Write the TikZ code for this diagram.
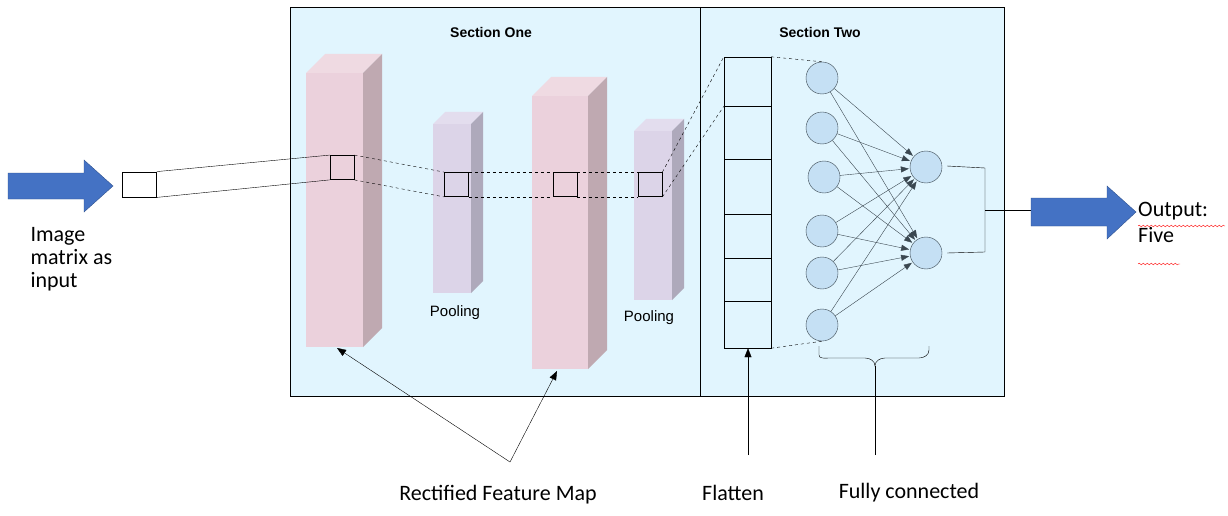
\documentclass[tikz,border=0pt]{standalone}
\usepackage{fontspec}
\setmainfont{Liberation Sans}
\newfontfamily\carfont{Carlito}
\usetikzlibrary{arrows.meta,decorations.pathmorphing,decorations.pathreplacing}
\definecolor{bgb}{HTML}{E1F5FE}
\definecolor{pkf}{HTML}{EBD1DC}\definecolor{pkt}{HTML}{EFDAE2}\definecolor{pks}{HTML}{BFA9B1}
\definecolor{puf}{HTML}{DCD4E8}\definecolor{put}{HTML}{E3DDEE}\definecolor{pus}{HTML}{AEA9BB}
\definecolor{cf}{HTML}{C5E0F4}\definecolor{cs}{HTML}{3A4750}
\definecolor{ab}{HTML}{4472C4}\definecolor{abd}{HTML}{2F528F}
\tikzset{x=1pt,y=-1pt,
 neu/.style={circle,draw=cs,fill=cf,minimum size=32pt,inner sep=0pt},
 sq/.style={draw,thick,minimum size=24pt,inner sep=0pt},
 conn/.style={draw=cs,-{Triangle[length=8pt,width=6pt]},shorten >=1pt},
 lbl/.style={font=\carfont\fontsize{22}{26}\selectfont},
 pool/.style={font=\fontsize{15}{18}\selectfont}}
\newcommand{\slab}[7]{% x1 y1 x2 y2 d top side
 \fill[#6] (#1,#2) -- ++(#5,-#5) -- (#3+#5,#2-#5) -- (#3,#2) -- cycle;
 \fill[#7] (#3,#2) -- (#3+#5,#2-#5) -- (#3+#5,#4-#5) -- (#3,#4) -- cycle;
}
\begin{document}
\begin{tikzpicture}
\useasboundingbox (0,0) rectangle (1228,516);
\fill[white] (0,0) rectangle (1228,516);
\draw[fill=bgb] (290,7) rectangle (1004,396);
\draw (700,7) -- (700,396);
\node[font=\bfseries\fontsize{14}{16}\selectfont] (s1) at (491,32) {Section One};
\node[font=\bfseries\fontsize{14}{16}\selectfont] (s2) at (820,32) {Section Two};
% slabs
\slab{306}{73}{363}{347}{19}{pkt}{pks}\fill[pkf] (306,73) rectangle (363,347);
\slab{433}{124}{471}{293}{12}{put}{pus}\fill[puf] (433,124) rectangle (471,293);
\slab{532}{96}{588}{369}{19}{pkt}{pks}\fill[pkf] (532,96) rectangle (588,369);
\slab{634}{131}{672}{300}{12}{put}{pus}\fill[puf] (634,131) rectangle (672,300);
\node[pool] (p1) at (455,313) {Pooling};
\node[pool] (p2) at (649,318) {Pooling};
% squares
\node[draw,thick,minimum width=34pt,minimum height=25pt,inner sep=0pt,fill=white] (in) at (139.5,184.5) {};
\node[sq] (q1) at (342,167.5) {};
\node[sq] (q2) at (456.5,184.5) {};
\node[sq] (q3) at (565,184.5) {};
\node[sq] (q4) at (650,184.5) {};
\draw (in.north east) -- (q1.north west) (in.south east) -- (q1.south west);
\draw[dashed] (q1.north east) -- (q2.north west) (q1.south east) -- (q2.south west);
\draw[dashed] (q2.north east) -- (q3.north west) (q2.south east) -- (q3.south west);
\draw[dashed] (q3.north east) -- (q4.north west) (q3.south east) -- (q4.south west);
% flatten
\node[draw,minimum width=47pt,minimum height=291pt,inner sep=0pt] (fl) at (747.5,202.5) {};
\foreach \yy in {106,159,214,258,301} \draw (724,\yy) -- (771,\yy);
\coordinate (f2) at (724,106);
\draw[dashed] (q4.north east) -- (fl.north west) (q4.south east) -- (f2);
% neurons
\node[neu] (c1) at (822,78) {};
\node[neu] (c2) at (822,128) {};
\node[neu] (c3) at (824,177) {};
\node[neu] (c4) at (822,231) {};
\node[neu] (c5) at (822,273) {};
\node[neu] (c6) at (822,325) {};
\node[neu] (o1) at (926,167) {};
\node[neu] (o2) at (926,253) {};
\draw[dashed] (fl.north east) -- (c1.north);
\draw[dashed] (fl.south east) -- (c6.south);
\foreach \c in {c1,c2,c3,c4,c5,c6} {\draw[conn] (\c) -- (o1); \draw[conn] (\c) -- (o2);}
\coordinate (bj) at (985,210);
\coordinate (oa) at (1031,210);
\draw (947,166) -- (985,168) -- (985,252) -- (947,253);
\draw (bj) -- (oa);
% brace
\draw (819,346) -- (819,355) to[out=-90,in=180] (829,358) -- (865,358) to[out=0,in=90] (875,366) to[out=90,in=180] (885,358) -- (919,358) to[out=0,in=-90] (929,350) -- (929,346);
\coordinate (fcb) at (875,455);
\coordinate (fct) at (875,366);
\draw (fcb) -- (fct);
% flatten arrow
\coordinate (flb) at (748,455);
\draw[-{Triangle[length=9pt,width=7pt]}] (flb) -- (fl.south -| flb);
% rectified arrows
\coordinate (rf) at (510,462);
\coordinate (ra) at (337,348);
\coordinate (rb) at (557,371);
\draw[-{Triangle[length=9pt,width=7pt]}] (rf) -- (ra);
\draw[-{Triangle[length=9pt,width=7pt]}] (rf) -- (rb);
% big arrows
\fill[ab,draw=abd] (8,173) -- (84,173) -- (84,160) -- (113,186) -- (84,212) -- (84,199) -- (8,199) -- cycle;
\fill[ab,draw=abd] (1031,198) -- (1107,198) -- (1107,186) -- (1136,212) -- (1107,239) -- (1107,226) -- (1031,226) -- cycle;
% labels
\node[lbl,align=left,anchor=north west] (im) at (27,224) {Image\\[-3pt]matrix as\\[-3pt]input};
\node[lbl,align=left,anchor=north west,inner sep=0pt] (out) at (1138,202) {Output:\\[0pt]Five};
\draw[red,decorate,decoration={snake,amplitude=0.8pt,segment length=4pt}] (1138,226) -- (1225,226);
\draw[red,decorate,decoration={snake,amplitude=0.8pt,segment length=4pt}] (1138,264) -- (1180,264);
\node[lbl] (t1) at (498,495) {Rectified Feature Map};
\node[lbl] (t2) at (733,493) {Flatten};
\node[lbl] (t3) at (909,493) {Fully connected};
\end{tikzpicture}
\end{document}
